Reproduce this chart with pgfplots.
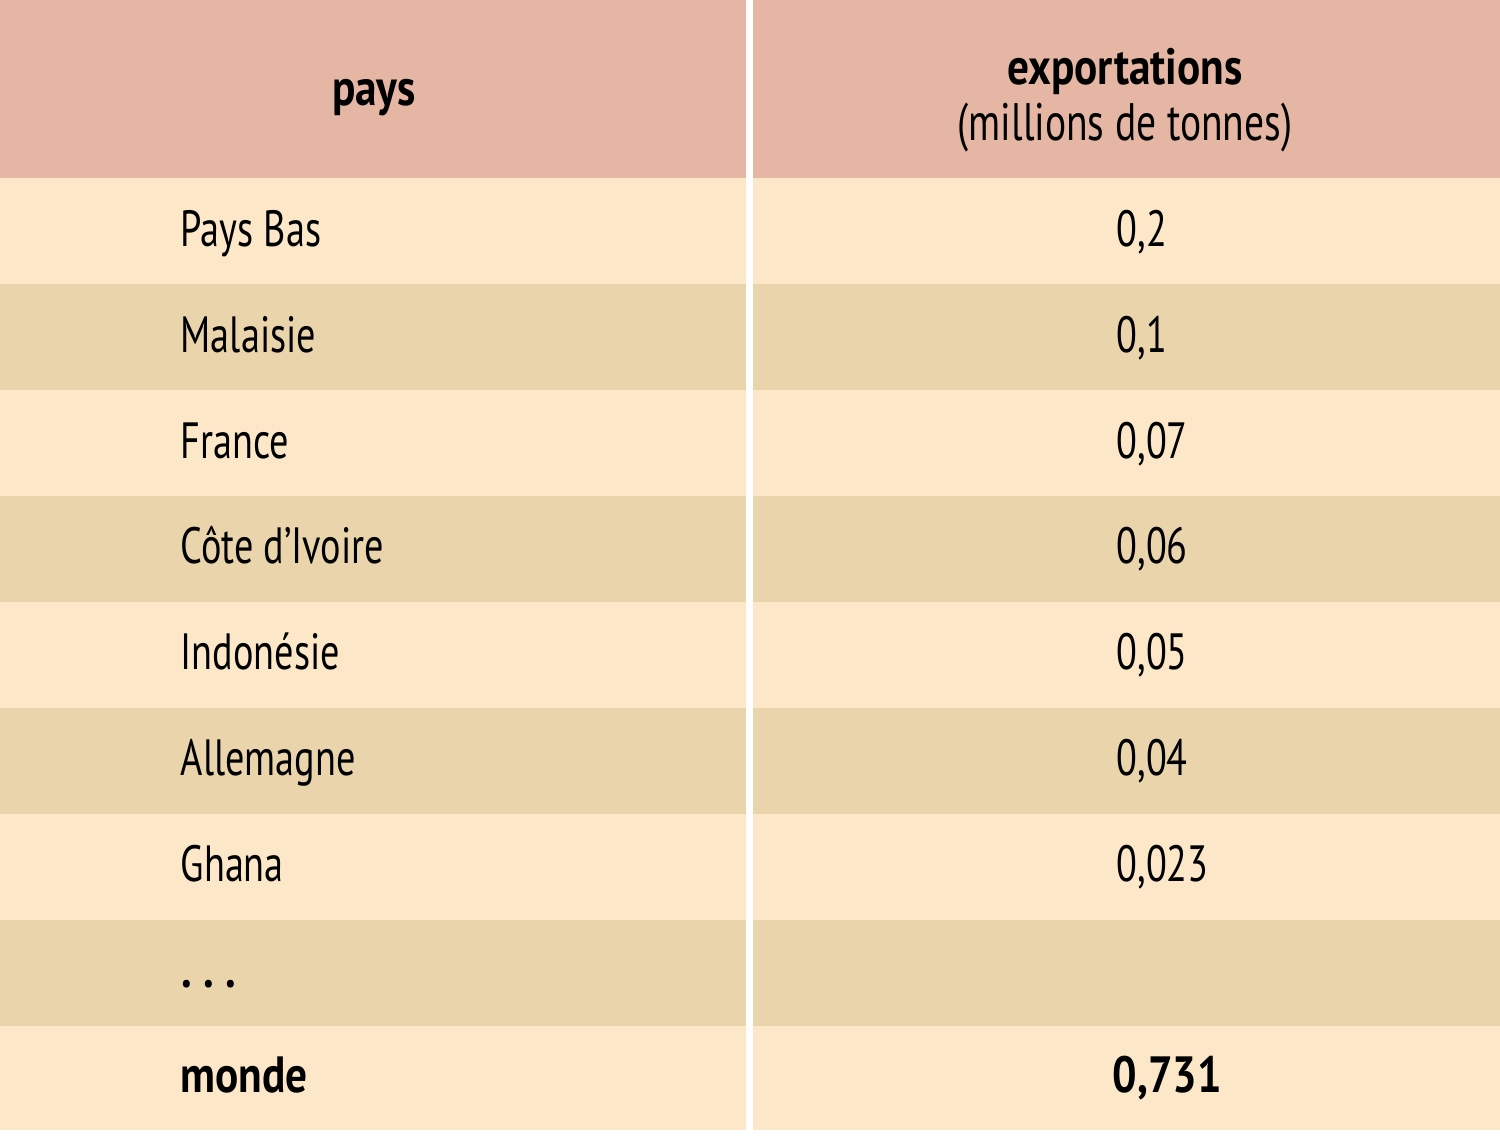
\documentclass[border=0pt]{standalone}
\usepackage{fontspec}
\setmainfont[FakeStretch=0.75, BoldFeatures={FakeStretch=0.85}]{PT Sans}
\usepackage{pgfplots}
\usepackage{pgfplotstable}
\pgfplotsset{compat=1.18}

\definecolor{hdr}{HTML}{E5B6A4}
\definecolor{rowA}{HTML}{FCE8C9}
\definecolor{rowB}{HTML}{EAD4AB}

% country names, baselines in pixel units (y down)
\pgfplotstableread{
x y label
180 246 {Pays Bas}
180 352 {Malaisie}
180 458 {France}
180 563 {Côte d’Ivoire}
180 669 {Indonésie}
180 775 {Allemagne}
180 881 {Ghana}
181 987 {\textbf{.\kern0.22em.\kern0.22em.}}
}\pays

\pgfplotstableread{
x y label
1116 246 {0,2}
1116 352 {0,1}
1116 458 {0,07}
1116 563 {0,06}
1116 669 {0,05}
1116 775 {0,04}
1116 881 {0,023}
}\expo

\newcommand\band[3]{\addplot[fill=#3, draw=none] coordinates {(0,#1) (1500,#1) (1500,#2) (0,#2)} -- cycle;}

\begin{document}
\begin{tikzpicture}
\begin{axis}[
  width=15cm, height=11.39cm, scale only axis,
  xmin=0, xmax=1500, ymin=0, ymax=1139, y dir=reverse,
  hide axis, clip=false,
  nodes near coords style={inner sep=0pt, text=black, font=\fontsize{14.5}{17}\selectfont},
]
\band{0}{1139}{white}
\band{0}{178}{hdr}
\band{178}{284}{rowA}
\band{284}{390}{rowB}
\band{390}{496}{rowA}
\band{496}{602}{rowB}
\band{602}{708}{rowA}
\band{708}{814}{rowB}
\band{814}{920}{rowA}
\band{920}{1026}{rowB}
\band{1026}{1130}{rowA}
\addplot[fill=white, draw=none] coordinates {(746,0) (753,0) (753,1139) (746,1139)} -- cycle;

% body text
\addplot[only marks, mark=none, nodes near coords, point meta=explicit symbolic,
  nodes near coords style={anchor=base west}]
  table[x=x, y=y, meta=label] {\pays};
\addplot[only marks, mark=none, nodes near coords, point meta=explicit symbolic,
  nodes near coords style={anchor=base west}]
  table[x=x, y=y, meta=label] {\expo};

% totals
\addplot[only marks, mark=none, nodes near coords, point meta=explicit symbolic,
  nodes near coords style={anchor=base west, font=\fontsize{14.5}{17}\selectfont\bfseries}]
  coordinates {(180,1092) [monde] (1112,1092) [{0,731}]};

% header
\addplot[only marks, mark=none, nodes near coords, point meta=explicit symbolic,
  nodes near coords style={anchor=base, font=\fontsize{14.5}{17}\selectfont\bfseries}]
  coordinates {(374,105) [pays] (1125,84) [exportations]};
\addplot[only marks, mark=none, nodes near coords, point meta=explicit symbolic,
  nodes near coords style={anchor=base, font=\fontsize{15}{17}\selectfont}]
  coordinates {(1125,140) [(millions de tonnes)]};
\end{axis}
\end{tikzpicture}
\end{document}
